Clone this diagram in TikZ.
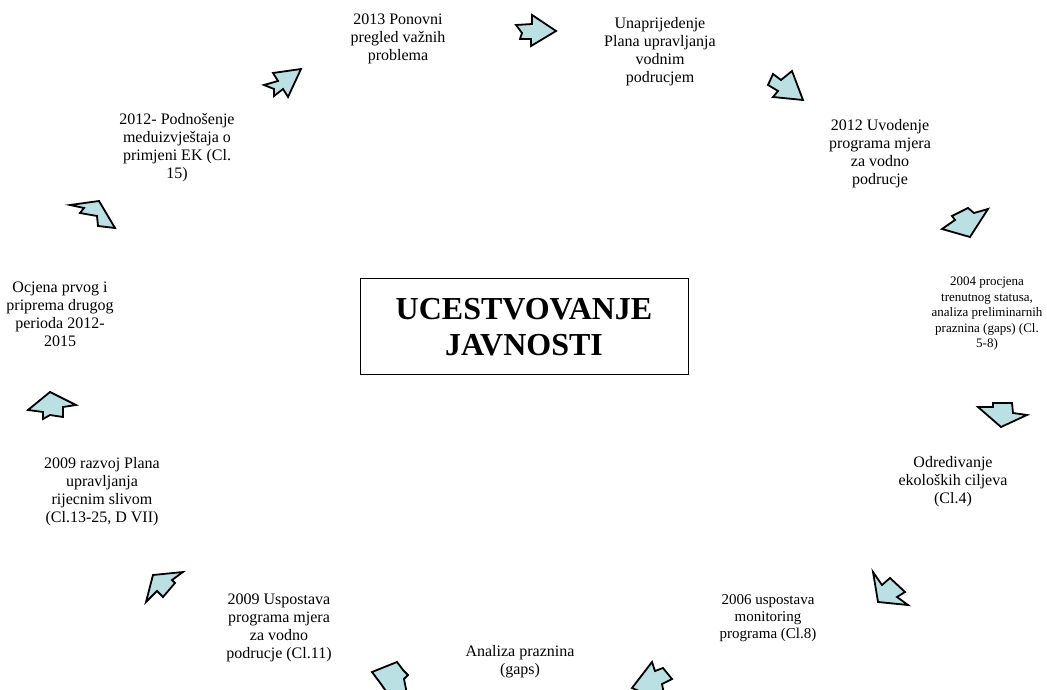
\documentclass[tikz,border=0pt]{standalone}
\usepackage{fontspec}
\setmainfont{Liberation Serif}
\definecolor{arrfill}{RGB}{187,224,227}
\tikzset{
  lbl/.style={align=center, inner sep=0pt, font=\fontsize{16}{18}\selectfont},
  lblsmall/.style={align=center, inner sep=0pt, font=\fontsize{13}{15.5}\selectfont},
  blk/.style={draw=black, line width=1.8pt, fill=arrfill, line join=miter},
  titlebox/.style={draw=black, line width=1pt, minimum width=328pt, minimum height=96pt, inner sep=0pt}
}
\begin{document}
\begin{tikzpicture}[x=1pt,y=-1pt]
\useasboundingbox (0,0) rectangle (1047,690);
% title
\node[titlebox] (box) at (524,326) {};
\node[align=center, font=\bfseries\fontsize{32}{36}\selectfont] (title) at (524,327) {UCESTVOVANJE\\JAVNOSTI};
% labels
\node[lbl] (t1) at (398,39) {2013 Ponovni\\pregled važnih\\problema};
\node[lbl] (t2) at (660,52) {Unaprijedenje\\Plana upravljanja\\vodnim\\podrucjem};
\node[lbl] (t3) at (880,154) {2012 Uvodenje\\programa mjera\\za vodno\\podrucje};
\node[lblsmall] (t4) at (987,314) {2004 procjena\\trenutnog statusa,\\analiza preliminarnih\\praznina (gaps) (Cl.\\5-8)};
\node[lbl] (t5) at (953,482) {Odredivanje\\ekoloških ciljeva\\(Cl.4)};
\node[lbl, font=\fontsize{15}{17}\selectfont] (t6) at (768,618) {2006 uspostava\\monitoring\\programa (Cl.8)};
\node[lbl] (t7) at (520,662) {Analiza praznina\\(gaps)};
\node[lbl] (t8) at (279,628) {2009 Uspostava\\programa mjera\\za vodno\\podrucje (Cl.11)};
\node[lbl] (t9) at (102,492) {2009 razvoj Plana\\upravljanja\\rijecnim slivom\\(Cl.13-25, D VII)};
\node[lbl] (t10) at (60,314) {Ocjena prvog i\\priprema drugog\\perioda 2012-\\2015};
\node[lbl] (t11) at (177,148) {2012- Podnošenje\\meduizvještaja o\\primjeni EK (Cl.\\15)};
% block arrows
\begin{scope}
\clip (0,0) rectangle (1047,690);
\draw[blk] (516,25) -- (532,24) -- (532,15) -- (556,31) -- (531,46) -- (531,39) -- (520,39) -- (522,33) -- cycle;
\draw[blk] (768,85) -- (773,74) -- (781,80) -- (792,71) -- (803,100) -- (773,97) -- (778,91) -- cycle;
\draw[blk] (942,229) -- (955,220) -- (952,216) -- (968,208) -- (974,213) -- (988,209) -- (970,237) -- cycle;
\draw[blk] (978,407) -- (993,407) -- (993,403) -- (1012,403) -- (1013,413) -- (1027,415) -- (1001,427) -- cycle;
\draw[blk] (873,572) -- (882,585) -- (890,578) -- (905,592) -- (897,597) -- (908,605) -- (878,602) -- cycle;
\draw[blk] (632,688) -- (652,662) -- (655,671) -- (663,668) -- (672,679) -- (662,684) -- (664,694) -- (646,694) -- cycle;
\draw[blk] (372,672) -- (397,662) -- (403,670) -- (408,675) -- (404,679) -- (407,694) -- (388,694) -- (381,684) -- cycle;
\draw[blk] (153,575) -- (183,572) -- (172,580) -- (175,583) -- (163,597) -- (157,591) -- (146,602) -- cycle;
\draw[blk] (28,410) -- (50,392) -- (76,405) -- (63,407) -- (63,417) -- (50,415) -- (43,419) -- (43,412) -- cycle;
\draw[blk] (70,205) -- (99,201) -- (115,228) -- (98,226) -- (97,216) -- (80,213) -- (84,208) -- cycle;
\draw[blk] (301,69) -- (288,97) -- (283,89) -- (274,96) -- (274,89) -- (264,85) -- (278,81) -- (273,73) -- cycle;
\end{scope}
\end{tikzpicture}
\end{document}
